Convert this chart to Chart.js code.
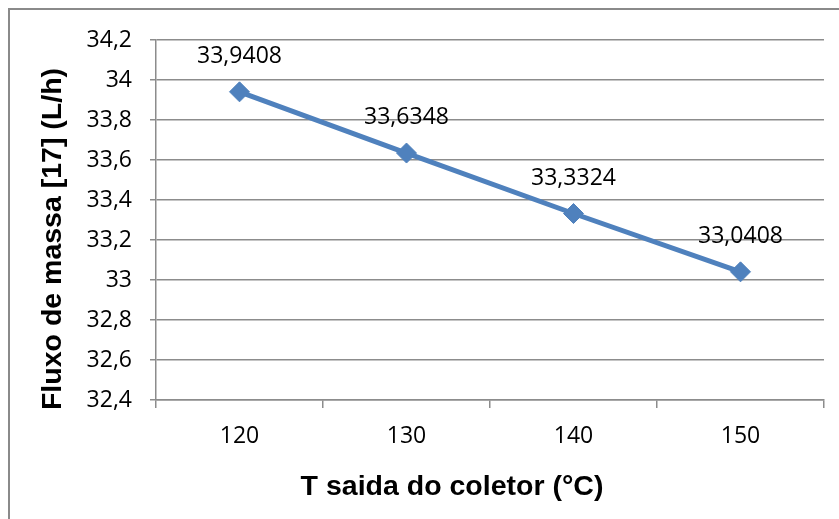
<!DOCTYPE html>
<html>
<head>
<meta charset="utf-8">
<script src="https://cdn.jsdelivr.net/npm/chart.js@4.4.1/dist/chart.umd.min.js"></script>
<style>
  body { margin: 0; background: #fff; }
  canvas { display: block; }
</style>
</head>
<body>
<canvas id="grafico" width="839" height="519"></canvas>
<script>
// dados do gráfico
const temperaturas = ['120', '130', '140', '150'];
const fluxoMassa = [33.9408, 33.6348, 33.3324, 33.0408];
const yMin = 32.4;
const yMax = 34.2;
const yPasso = 0.2;

const tituloX = 'T saida do coletor (°C)';
const tituloY = 'Fluxo de massa [17] (L/h)';

const azul = '#4F81BD';
const cinza = '#8C8C8C';
const fonteTexto = '"Open Sans", "Liberation Sans", sans-serif';

// formata numero com virgula decimal
function virgula(v) {
  return String(Math.round(v * 10000) / 10000).replace('.', ',');
}

// moldura externa + titulos dos eixos
const molduraPlugin = {
  id: 'moldura',
  beforeDraw(chart) {
    const ctx = chart.ctx;
    ctx.save();
    ctx.fillStyle = '#fff';
    ctx.fillRect(0, 0, chart.width, chart.height);
    ctx.strokeStyle = '#8a8a8a';
    ctx.lineWidth = 2;
    ctx.beginPath();
    ctx.moveTo(9, chart.height);
    ctx.lineTo(9, 9);
    ctx.lineTo(chart.width, 9);
    ctx.stroke();
    ctx.restore();
  },
  afterDraw(chart) {
    const ctx = chart.ctx;
    ctx.save();
    ctx.fillStyle = '#000';
    ctx.font = 'bold 28.5px "Liberation Sans", Arial, sans-serif';
    ctx.textAlign = 'center';
    ctx.textBaseline = 'alphabetic';
    ctx.fillText(tituloX, 452, 495);
    ctx.translate(61, 239);
    ctx.rotate(-Math.PI / 2);
    ctx.fillText(tituloY, 0, 0);
    ctx.restore();
  }
};

// rotulos de dados acima dos pontos
const rotulosPlugin = {
  id: 'rotulos',
  afterDatasetsDraw(chart) {
    const ctx = chart.ctx;
    const meta = chart.getDatasetMeta(0);
    ctx.save();
    ctx.fillStyle = '#000';
    ctx.font = '23px ' + fonteTexto;
    ctx.textAlign = 'center';
    ctx.textBaseline = 'alphabetic';
    meta.data.forEach((ponto, i) => {
      ctx.fillText(virgula(fluxoMassa[i]), ponto.x, ponto.y - 29);
    });
    ctx.restore();
  }
};

const ctx = document.getElementById('grafico').getContext('2d');
new Chart(ctx, {
  type: 'line',
  data: {
    labels: temperaturas,
    datasets: [{
      data: fluxoMassa,
      borderColor: azul,
      backgroundColor: azul,
      borderWidth: 5,
      pointStyle: 'rectRot',
      pointRadius: 10,
      pointBorderWidth: 1,
      pointBorderColor: azul,
      tension: 0
    }]
  },
  options: {
    responsive: false,
    animation: false,
    layout: { padding: { left: 10, top: 40, right: 15, bottom: 0 } },
    plugins: {
      legend: { display: false },
      tooltip: { enabled: false }
    },
    scales: {
      x: {
        offset: true,
        afterFit: (escala) => { escala.height = 119; },
        grid: {
          offset: true,
          drawOnChartArea: false,
          tickLength: 8,
          color: cinza,
          lineWidth: 1.5
        },
        border: { display: true, color: cinza, width: 1.5 },
        ticks: {
          color: '#000',
          padding: 15,
          font: { family: fonteTexto, size: 23 }
        }
      },
      y: {
        min: yMin,
        max: yMax,
        afterFit: (escala) => { escala.width = 146; },
        grid: {
          color: cinza,
          lineWidth: 1.5,
          tickLength: 6
        },
        border: { display: true, color: cinza, width: 1.5 },
        ticks: {
          stepSize: yPasso,
          color: '#000',
          padding: 18,
          font: { family: fonteTexto, size: 23 },
          callback: (v) => virgula(v)
        }
      }
    }
  },
  plugins: [molduraPlugin, rotulosPlugin]
});
</script>
</body>
</html>
